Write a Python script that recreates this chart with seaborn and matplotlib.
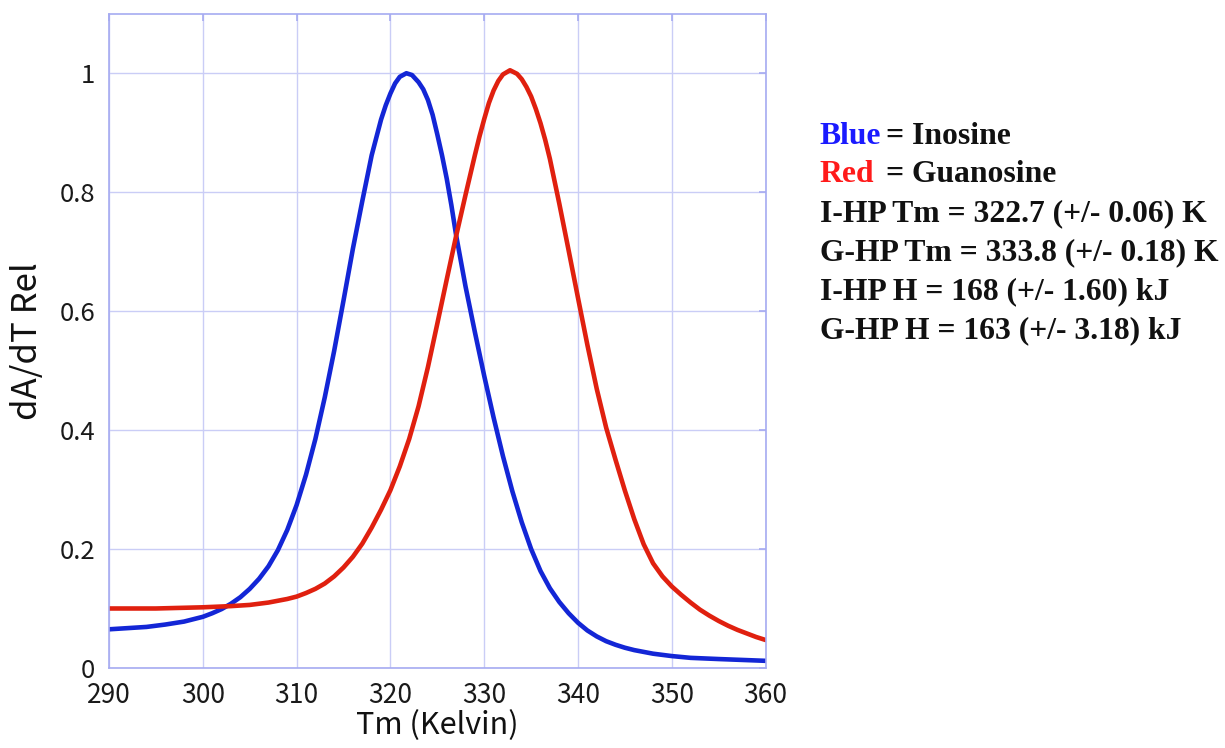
import matplotlib
matplotlib.use("Agg")
import matplotlib.pyplot as plt
import numpy as np
import pandas as pd
import seaborn as sns

# Melting-curve derivatives (dA/dT, normalised) for the two hairpins
inosine_T = [290, 292, 294, 296, 298, 300, 301, 302, 303, 304, 305, 306, 307, 308,
             309, 310, 311, 312, 313, 314, 315, 316, 317, 318, 319, 319.5, 320,
             320.5, 321, 321.7, 322.3, 323, 323.5, 324, 324.5, 325, 325.5, 326,
             326.5, 327, 327.5, 328, 329, 330, 331, 332, 333, 334, 335, 336, 337,
             338, 339, 340, 341, 342, 343, 344, 345, 346, 347, 348, 350, 352, 355, 360]
inosine_y = [0.065, 0.067, 0.069, 0.073, 0.078, 0.086, 0.092, 0.099, 0.108, 0.119,
             0.133, 0.150, 0.171, 0.198, 0.232, 0.274, 0.325, 0.385, 0.455, 0.533,
             0.618, 0.705, 0.785, 0.862, 0.922, 0.946, 0.966, 0.983, 0.994, 1.000,
             0.997, 0.985, 0.973, 0.955, 0.930, 0.897, 0.862, 0.823, 0.778, 0.728,
             0.685, 0.642, 0.565, 0.491, 0.421, 0.356, 0.297, 0.245, 0.200, 0.163,
             0.134, 0.111, 0.092, 0.076, 0.063, 0.053, 0.045, 0.039, 0.034, 0.030,
             0.027, 0.024, 0.020, 0.017, 0.015, 0.012]

guanosine_T = [290, 295, 300, 303, 305, 307, 308, 309, 310, 311, 312, 313, 314, 315,
               316, 317, 318, 319, 320, 321, 322, 323, 324, 325, 326, 327, 328, 329,
               329.5, 330, 330.5, 331, 331.5, 332, 332.75, 333.5, 334, 334.5, 335,
               335.5, 336, 336.5, 337, 338, 339, 340, 341, 342, 343, 344, 345, 346,
               347, 348, 349, 350, 351, 352, 353, 354, 355, 356, 357, 358, 359, 360]
guanosine_y = [0.100, 0.100, 0.102, 0.104, 0.106, 0.110, 0.113, 0.116, 0.120, 0.126,
               0.133, 0.142, 0.154, 0.169, 0.187, 0.209, 0.236, 0.266, 0.299, 0.339,
               0.385, 0.440, 0.506, 0.579, 0.653, 0.726, 0.795, 0.862, 0.894, 0.923,
               0.950, 0.971, 0.987, 0.998, 1.005, 0.999, 0.990, 0.977, 0.961, 0.940,
               0.916, 0.888, 0.856, 0.781, 0.702, 0.622, 0.543, 0.469, 0.404, 0.350,
               0.298, 0.250, 0.208, 0.176, 0.154, 0.137, 0.123, 0.110, 0.098, 0.088,
               0.079, 0.071, 0.064, 0.058, 0.052, 0.047]

x_ticks = [290, 300, 310, 320, 330, 340, 350, 360]
y_ticks = [0, 0.2, 0.4, 0.6, 0.8, 1.0]
y_tick_labels = ["0", "0.2", "0.4", "0.6", "0.8", "1"]

fit_lines = [
    "I-HP Tm = 322.7 (+/- 0.06) K",
    "G-HP Tm = 333.8 (+/- 0.18) K",
    "I-HP H = 168 (+/- 1.60) kJ",
    "G-HP H = 163 (+/- 3.18) kJ",
]

df = pd.concat([
    pd.DataFrame({"T": inosine_T, "dAdT": inosine_y, "sample": "Inosine"}),
    pd.DataFrame({"T": guanosine_T, "dAdT": guanosine_y, "sample": "Guanosine"}),
])

sns.set_theme(style="white")
plt.rcParams["font.family"] = ["Noto Sans CJK JP", "DejaVu Sans"]

grid_col = "#cacdf6"
frame_col = "#a6abf1"

fig = plt.figure(figsize=(12.25, 7.48), dpi=100)
ax = fig.add_axes([0.089, 0.107, 0.536, 0.8746])

sns.lineplot(data=df, x="T", y="dAdT", hue="sample",
             palette={"Inosine": "#1326d6", "Guanosine": "#e0200f"},
             linewidth=3.3, legend=False, ax=ax, sort=False, estimator=None)
for ln in ax.get_lines():
    ln.set_solid_joinstyle("round")
    ln.set_solid_capstyle("round")

ax.set_xlim(290, 360)
ax.set_ylim(0, 1.1)
ax.set_xticks(x_ticks)
ax.set_yticks(y_ticks)
ax.set_yticklabels(y_tick_labels)
ax.grid(True, color=grid_col, linewidth=1.0)
ax.set_axisbelow(True)
for s in ax.spines.values():
    s.set_color(frame_col)
    s.set_linewidth(1.2)
ax.tick_params(axis="both", which="both", direction="in", length=5, width=1.2,
               color=frame_col, top=True, right=True, labelcolor="#1a1a1a")
ax.tick_params(axis="x", labelsize=19, pad=10)
ax.tick_params(axis="y", labelsize=18.5, pad=10)
# lift the y tick labels a touch so the "0" clears the x labels
for lbl in ax.get_yticklabels():
    lbl.set_verticalalignment("center_baseline")

ax.set_xlabel("Tm (Kelvin)", fontsize=22, color="#111111", labelpad=1)
ax.set_ylabel("dA/dT Rel", fontsize=25, color="#111111", labelpad=10)

serif = ["Liberation Serif", "DejaVu Serif"]
fs = 22.8
x0 = 0.669
line_y = [0.818, 0.767, 0.714, 0.662, 0.610, 0.558]

fig.text(x0, line_y[0], "Blue", color="#1a1aff", fontsize=fs,
         fontweight="bold", family=serif, va="center")
fig.text(x0 + 0.0545, line_y[0], "= Inosine", color="#111111", fontsize=fs,
         fontweight="bold", family=serif, va="center")
fig.text(x0, line_y[1], "Red", color="#ff1a1a", fontsize=fs,
         fontweight="bold", family=serif, va="center")
fig.text(x0 + 0.0545, line_y[1], "= Guanosine", color="#111111", fontsize=fs,
         fontweight="bold", family=serif, va="center")
for yy, s in zip(line_y[2:], fit_lines):
    fig.text(x0, yy, s, color="#111111", fontsize=fs, fontweight="bold",
             family=serif, va="center")

fig.savefig("out.png", dpi=100, facecolor="white")
